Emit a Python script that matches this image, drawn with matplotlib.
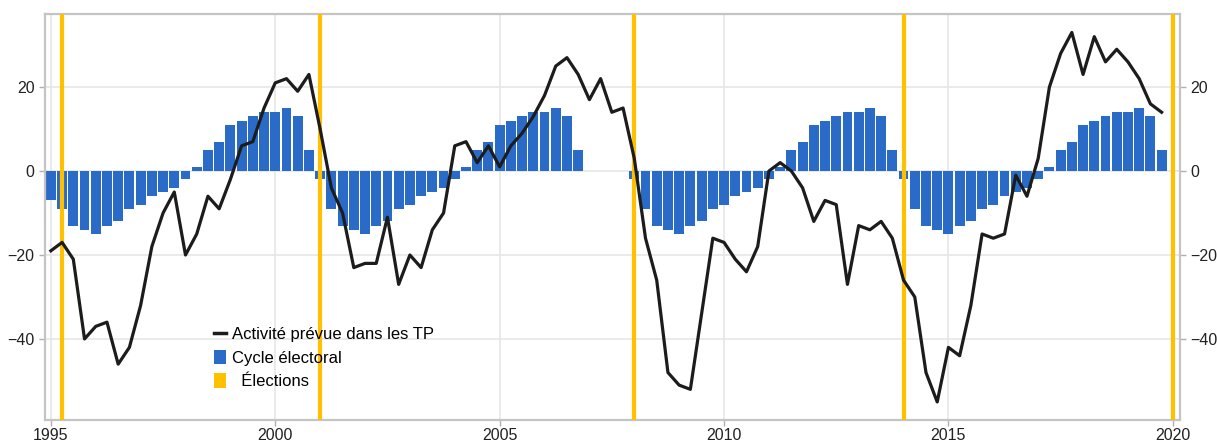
import numpy as np
import matplotlib.pyplot as plt
from matplotlib.lines import Line2D
from matplotlib.patches import Patch

plt.rcParams['font.family'] = ['Liberation Sans', 'DejaVu Sans']

# quarterly data, 1995Q1 .. 2019Q4
start_year = 1995
n_quarters = 100

cycle_electoral = [
    -7, -9, -13, -14,  -15, -13, -12, -9,  -8, -6, -5, -4,  -2, 1, 5, 7,
    11, 12, 13, 14,  14, 15, 13, 5,
    -2, -9, -13, -14,  -15, -13, -12, -9,  -8, -6, -5, -4,  -2, 1, 5, 7,
    11, 12, 13, 14,  14, 15, 13, 5,
    0, 0, 0, 0,
    -2, -9, -13, -14,  -15, -13, -12, -9,  -8, -6, -5, -4,  -2, 1, 5, 7,
    11, 12, 13, 14,  14, 15, 13, 5,
    -2, -9, -13, -14,  -15, -13, -12, -9,  -8, -6, -5, -4,  -2, 1, 5, 7,
    11, 12, 13, 14,  14, 15, 13, 5,
]

activite_tp = [
    -19, -17, -21, -40,   # 1995
    -37, -36, -46, -42,   # 1996
    -32, -18, -10, -5,    # 1997
    -20, -15, -6, -9,     # 1998
    -2, 6, 7, 15,         # 1999
    21, 22, 19, 23,       # 2000
    10, -4, -10, -23,     # 2001
    -22, -22, -11, -27,   # 2002
    -20, -23, -14, -10,   # 2003
    6, 7, 2, 6,           # 2004
    1, 6, 9, 13,          # 2005
    18, 25, 27, 23,       # 2006
    17, 22, 14, 15,       # 2007
    3, -16, -26, -48,     # 2008
    -51, -52, -34, -16,   # 2009
    -17, -21, -24, -18,   # 2010
    0, 2, 0, -4,          # 2011
    -12, -7, -8, -27,     # 2012
    -13, -14, -12, -16,   # 2013
    -26, -30, -48, -55,   # 2014
    -42, -44, -32, -15,   # 2015
    -16, -15, -1, -6,     # 2016
    3, 20, 28, 33,        # 2017
    23, 32, 26, 29,       # 2018
    26, 22, 16, 14,       # 2019
]

elections = [1995.25, 2001.0, 2008.0, 2014.0, 2020.0]

x = start_year + np.arange(n_quarters) * 0.25

fig = plt.figure(figsize=(12.17, 4.42), dpi=100)
ax = fig.add_axes([0.037, 0.0498, 0.9326, 0.9185])

ax.grid(True, color='#e6e6e6', linewidth=1.2, zorder=0)
ax.set_axisbelow(True)

ax.bar(x, cycle_electoral, width=0.22, color='#2a6bc8', zorder=2)
for e in elections:
    ax.axvline(e, color='#ffc000', linewidth=3, zorder=3)
ax.plot(x, activite_tp, color='#1c1c1c', linewidth=2.3, zorder=4)

ax.set_xlim(1994.87, 2020.16)
ax.set_ylim(-59.3, 37.4)
ax.set_xticks([1995, 2000, 2005, 2010, 2015, 2020])
ax.set_yticks([-40, -20, 0, 20])

for s in ax.spines.values():
    s.set_color('#c4c4c4')
    s.set_linewidth(1.6)

ax.tick_params(axis='both', colors='#b0b0b0', labelcolor='#222222',
               labelsize=11.5, length=4, width=1)
ax.tick_params(axis='y', right=True, labelright=True)
ax.tick_params(axis='x', pad=2)

# legend
handles = [
    Line2D([0], [0], color='#1c1c1c', linewidth=2.5),
    Patch(facecolor='#2a6bc8'),
    Patch(facecolor='#ffc000'),
]
labels = ['Activité prévue dans les TP', 'Cycle électoral', '  Élections']
ax.legend(handles, labels, loc='upper left', bbox_to_anchor=(0.143, 0.247),
          frameon=False, fontsize=12, handlelength=0.75, handleheight=0.95,
          handletextpad=0.35, labelspacing=0.45, borderaxespad=0)

plt.savefig('out.png', dpi=100)
plt.close('all')
